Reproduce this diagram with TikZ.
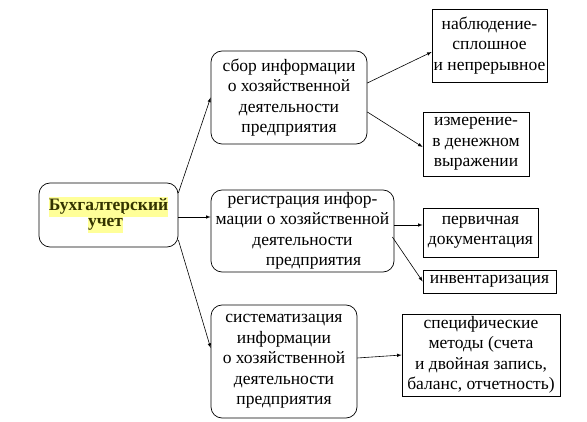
\documentclass[tikz,border=0pt]{standalone}
\usepackage{fontspec}
\setmainfont{Liberation Serif}
\usepackage{tikz}
\usetikzlibrary{calc, positioning, arrows}
\definecolor{hlyellow}{HTML}{FFFF99}
\definecolor{darkolive}{HTML}{333300}
\tikzstyle{arrow} = [line width=0.6pt,-latex]
\tikzstyle{rbox} = [draw, line width=0.7pt, rounded corners=11pt, align=center, inner sep=1pt, font=\fontsize{17.5}{20.5}\selectfont]
\tikzstyle{sbox} = [draw, line width=0.7pt, align=center, inner sep=1pt, font=\fontsize{17.5}{20.5}\selectfont]
\newcommand{\hlword}[1]{{\setlength{\fboxsep}{0pt}\colorbox{hlyellow}{\strut #1}}}

\begin{document}
\begin{tikzpicture}[x=1pt, y=-1pt]
        \useasboundingbox (0,0) rectangle (587,422);
        \node[rbox, minimum width=139pt, minimum height=64pt, font=\fontsize{17.5}{20}\selectfont\bfseries\color{darkolive}] (main) at (108.5,215) {\hlword{Бухгалтерский}\\[-4pt]\hlword{учет}\hspace*{6pt}};
        \node[rbox, minimum width=156pt, minimum height=93pt] (sbor) at (289,97.5) {сбор информации\\о хозяйственной\\деятельности\\предприятия};
        \node[rbox, minimum width=183pt, minimum height=82pt] (reg) at (302.5,231) {регистрация инфор-\\мации о хозяйственной\\деятельности\\\hspace*{22pt}предприятия};
        \node[rbox, minimum width=146pt, minimum height=113pt] (sist) at (284,361.5) {систематизация\\информации\\о хозяйственной\\деятельности\\предприятия};
        \node[sbox, minimum width=115pt, minimum height=73pt] (nabl) at (489.5,45.5) {наблюдение-\\сплошное\\и непрерывное};
        \node[sbox, minimum width=106pt, minimum height=64pt] (izm) at (476,144) {измерение-\\в денежном\\выражении};
        \node[sbox, minimum width=115pt, minimum height=49pt] (perv) at (480.5,232.5) {первичная\\документация};
        \node[sbox, minimum width=133pt, minimum height=23pt, inner sep=0pt] (inv) at (489.5,281.5) {инвентаризация};
        \node[sbox, minimum width=158pt, minimum height=82pt] (spec) at (481,355) {специфические\\методы (счета\\и двойная запись,\\баланс, отчетность)};
        \draw[arrow] ($(main.east)+(0,-22)$) -- (sbor.west);
        \draw[arrow] ($(main.east)+(0,2)$) -- ($(reg.west)+(0,-14)$);
        \draw[arrow] ($(main.east)+(0,25)$) -- ($(sist.west)+(0,-13.5)$);
        \draw[arrow] ($(sbor.east)+(0,-14.5)$) -- ($(nabl.west)+(0,6.5)$);
        \draw[arrow] ($(sbor.east)+(0,14.5)$) -- ($(izm.west)+(0,3)$);
        \draw[arrow] ($(reg.east)+(0,-6)$) -- ($(perv.west)+(0,-7.5)$);
        \draw[arrow] ($(reg.east)+(-2,6)$) -- (inv.west);
        \draw[arrow] ($(sist.east)+(0,-3.5)$) -- ($(spec.west)+(0,0)$);
    \end{tikzpicture}
\end{document}
